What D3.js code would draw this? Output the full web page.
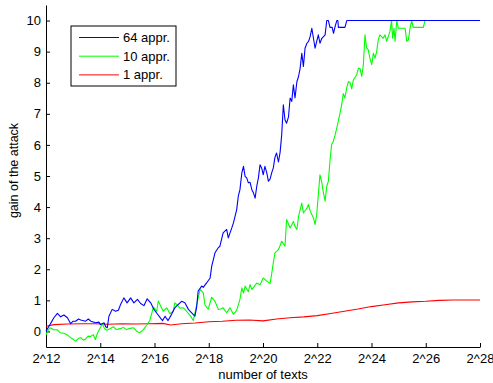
<!DOCTYPE html>
<html>
<head>
<meta charset="utf-8">
<script src="https://cdn.jsdelivr.net/npm/d3@7"></script>
<style>
    body { margin: 0; background: #fff; }
    svg text { font-family: "Liberation Sans", Arial, Helvetica, sans-serif; }
</style>
</head>
<body>
<div id="chart"></div>
<script>
// x values are log2 of the number of texts
const seriesNames = ["64 appr.", "10 appr.", "1 appr."];
const seriesColors = ["#0000ff", "#00ff00", "#ff0000"];
const xTickExps = [12, 14, 16, 18, 20, 22, 24, 26, 28];
const yTicks = [0, 1, 2, 3, 4, 5, 6, 7, 8, 9, 10];

const appr64 = [[12.0,0.01],[12.11,0.17],[12.2,0.3],[12.29,0.44],[12.42,0.58],[12.54,0.47],[12.66,0.53],[12.79,0.44],[12.91,0.25],[13.0,0.33],[13.09,0.33],[13.2,0.4],[13.28,0.37],[13.46,0.33],[13.56,0.4],[13.65,0.33],[13.83,0.28],[13.95,0.3],[14.01,0.22],[14.14,0.28],[14.2,0.15],[14.26,0.12],[14.32,0.49],[14.44,0.71],[14.57,0.65],[14.67,0.68],[14.75,0.87],[14.87,1.08],[14.99,0.92],[15.12,1.08],[15.24,0.92],[15.37,1.03],[15.49,0.9],[15.61,0.83],[15.73,1.05],[15.86,0.92],[15.98,0.71],[16.1,0.57],[16.23,0.42],[16.3,0.35],[16.39,0.49],[16.5,0.35],[16.63,0.55],[16.75,0.76],[16.88,0.87],[17.0,0.97],[17.12,0.92],[17.25,0.71],[17.37,0.6],[17.49,0.49],[17.55,0.76],[17.61,1.3],[17.74,1.46],[17.8,1.42],[17.92,1.56],[18.05,1.72],[18.11,2.1],[18.17,2.31],[18.23,2.53],[18.35,2.69],[18.41,2.74],[18.53,3.17],[18.66,3.28],[18.72,3.01],[18.85,3.33],[18.91,3.49],[18.97,3.7],[19.03,3.92],[19.09,4.35],[19.15,4.56],[19.22,5.1],[19.28,5.31],[19.34,4.99],[19.4,4.94],[19.46,4.78],[19.52,4.8],[19.59,4.56],[19.65,4.45],[19.71,4.29],[19.77,4.67],[19.83,4.94],[19.89,5.36],[19.95,5.26],[20.01,5.04],[20.07,5.31],[20.14,5.1],[20.2,4.83],[20.26,4.9],[20.32,5.1],[20.38,5.26],[20.44,5.6],[20.5,5.74],[20.57,5.45],[20.63,5.76],[20.69,6.33],[20.75,7.29],[20.81,6.81],[20.87,6.7],[20.94,6.9],[21.0,7.51],[21.06,7.4],[21.12,7.93],[21.18,7.51],[21.25,8.04],[21.31,8.2],[21.37,8.47],[21.43,8.95],[21.49,8.52],[21.55,9.11],[21.62,9.27],[21.68,9.33],[21.74,9.49],[21.8,9.75],[21.86,9.43],[21.92,9.11],[21.98,9.33],[22.04,9.54],[22.1,9.27],[22.17,9.43],[22.29,9.54],[22.35,10],[22.41,10],[22.47,9.78],[22.55,9.78],[22.6,9.59],[22.65,9.78],[22.72,10],[22.76,10],[22.78,9.78],[23.02,9.78],[23.09,10],[28,10]];

const appr10 = [[12.0,-0.12],[12.05,0.0],[12.15,0.12],[12.27,0.06],[12.42,0.05],[12.52,-0.04],[12.66,-0.06],[12.8,-0.12],[12.91,-0.2],[13.01,-0.26],[13.1,-0.31],[13.2,-0.22],[13.28,-0.2],[13.38,-0.28],[13.46,-0.24],[13.55,-0.15],[13.65,-0.16],[13.74,-0.1],[13.82,-0.26],[13.9,-0.05],[13.99,0.1],[14.08,0.25],[14.15,0.1],[14.24,0.04],[14.36,0.09],[14.48,0.15],[14.6,0.06],[14.73,0.09],[14.85,0.13],[14.97,0.06],[15.1,0.1],[15.22,0.12],[15.34,0.01],[15.46,-0.04],[15.59,0.06],[15.71,0.2],[15.83,0.36],[15.96,0.78],[16.08,0.65],[16.14,0.98],[16.2,0.87],[16.32,0.65],[16.45,0.76],[16.57,0.57],[16.69,0.65],[16.75,0.92],[16.82,0.87],[16.94,0.75],[17.06,0.76],[17.18,0.65],[17.31,0.52],[17.43,0.35],[17.55,0.84],[17.68,1.35],[17.8,1.24],[17.86,0.85],[17.98,0.72],[18.11,1.1],[18.23,0.97],[18.35,0.71],[18.45,0.72],[18.53,0.76],[18.66,0.6],[18.78,0.76],[18.91,0.55],[19.03,0.68],[19.15,1.03],[19.22,1.4],[19.28,1.24],[19.34,1.46],[19.46,1.28],[19.52,1.51],[19.59,1.35],[19.68,1.45],[19.77,1.56],[19.89,1.5],[20.01,1.72],[20.14,1.62],[20.26,1.54],[20.32,1.85],[20.38,2.21],[20.44,2.53],[20.57,2.63],[20.69,2.9],[20.81,2.74],[20.87,3.6],[21.0,3.33],[21.12,3.54],[21.18,3.38],[21.25,3.28],[21.31,3.7],[21.43,4.13],[21.49,3.81],[21.62,3.97],[21.68,4.08],[21.74,3.87],[21.86,3.65],[21.92,3.44],[21.98,3.76],[22.1,5.04],[22.17,4.78],[22.23,4.45],[22.29,4.19],[22.35,4.67],[22.41,4.83],[22.47,5.5],[22.53,6.01],[22.59,6.11],[22.66,6.33],[22.72,6.54],[22.84,7.02],[22.9,7.29],[22.96,7.65],[23.02,7.51],[23.09,7.85],[23.15,8.04],[23.21,8.0],[23.27,7.8],[23.33,8.09],[23.45,8.25],[23.52,8.47],[23.58,8.45],[23.64,8.2],[23.7,8.58],[23.76,9.54],[23.82,9.11],[23.88,9.06],[23.94,8.79],[24.01,8.58],[24.07,8.95],[24.13,8.79],[24.19,9.0],[24.25,9.38],[24.31,9.54],[24.43,9.43],[24.5,9.54],[24.56,9.33],[24.62,9.49],[24.68,9.65],[24.74,10],[24.78,9.43],[24.83,9.75],[24.87,9.33],[24.93,10],[24.99,9.75],[25.24,9.75],[25.3,9.33],[25.36,9.38],[25.42,9.75],[25.48,10],[25.54,9.78],[25.91,9.78],[25.97,10],[28,10]];

const appr1 = [[12,0.17],[12.3,0.22],[12.8,0.24],[13.3,0.25],[13.8,0.25],[14.3,0.23],[14.8,0.25],[15.3,0.24],[15.8,0.25],[16.3,0.26],[16.6,0.21],[17.0,0.25],[17.5,0.27],[18.0,0.31],[18.5,0.33],[19.0,0.36],[19.5,0.37],[20.0,0.34],[20.5,0.4],[21.0,0.44],[21.5,0.47],[22.0,0.51],[22.5,0.58],[23.0,0.65],[23.5,0.72],[24.0,0.8],[24.5,0.86],[25.0,0.92],[25.5,0.95],[26.0,0.97],[26.5,1.0],[27.0,1.01],[28.0,1.01]];

const allSeries = [appr64, appr10, appr1];

const margin = { top: 5, right: 13, bottom: 36, left: 46 };
const width = 493 - margin.left - margin.right;
const height = 383 - margin.top - margin.bottom;

const svg = d3.select("#chart")
    .append("svg")
    .attr("width", 493)
    .attr("height", 383);

const g = svg.append("g")
    .attr("transform", `translate(${margin.left},${margin.top})`);

const x = d3.scaleLog()
    .base(2)
    .domain([Math.pow(2, 12), Math.pow(2, 28)])
    .range([0, width]);

const y = d3.scaleLinear()
    .domain([-0.5, 10.5])
    .range([height, 0]);

// axes, MATLAB style: ticks pointing inward
const xAxis = g.append("g")
    .attr("transform", `translate(0,${height})`)
    .call(d3.axisBottom(x)
        .tickValues(xTickExps.map(e => Math.pow(2, e)))
        .tickFormat((d, i) => "2^" + xTickExps[i])
        .tickSizeInner(-4)
        .tickSizeOuter(0)
        .tickPadding(7));

const yAxis = g.append("g")
    .call(d3.axisLeft(y)
        .tickValues(yTicks)
        .tickSizeInner(-4)
        .tickSizeOuter(0)
        .tickPadding(5));

[xAxis, yAxis].forEach(a => {
    a.select(".domain").attr("stroke", "#000");
    a.selectAll(".tick line").attr("stroke", "#000");
    a.selectAll("text")
        .attr("fill", "#000")
        .style("font-size", "13px");
});

// lines
const line = d3.line()
    .x(d => x(Math.pow(2, d[0])))
    .y(d => y(d[1]));

// draw red first so blue ends on top
[2, 1, 0].forEach(i => {
    g.append("path")
        .datum(allSeries[i])
        .attr("fill", "none")
        .attr("stroke", seriesColors[i])
        .attr("stroke-width", 1.1)
        .attr("stroke-linejoin", "round")
        .attr("d", line);
});

// axis labels
svg.append("text")
    .attr("x", margin.left + width / 2)
    .attr("y", 379)
    .attr("text-anchor", "middle")
    .style("font-size", "13px")
    .text("number of texts");

svg.append("text")
    .attr("transform", "translate(18,170.5) rotate(-90)")
    .attr("text-anchor", "middle")
    .style("font-size", "12.5px")
    .text("gain of the attack");

// legend
const legend = svg.append("g");
legend.append("rect")
    .attr("x", 71)
    .attr("y", 26)
    .attr("width", 105)
    .attr("height", 60)
    .attr("fill", "#fff")
    .attr("stroke", "#000")
    .attr("stroke-width", 1);

seriesNames.forEach((name, i) => {
    let ly = 37.5 + i * 18.7;
    legend.append("line")
        .attr("x1", 79).attr("x2", 119)
        .attr("y1", ly).attr("y2", ly)
        .attr("stroke", seriesColors[i]);
    legend.append("text")
        .attr("x", 123)
        .attr("y", ly)
        .attr("dy", "0.35em")
        .style("font-size", "13px")
        .text(name);
});
</script>
</body>
</html>
